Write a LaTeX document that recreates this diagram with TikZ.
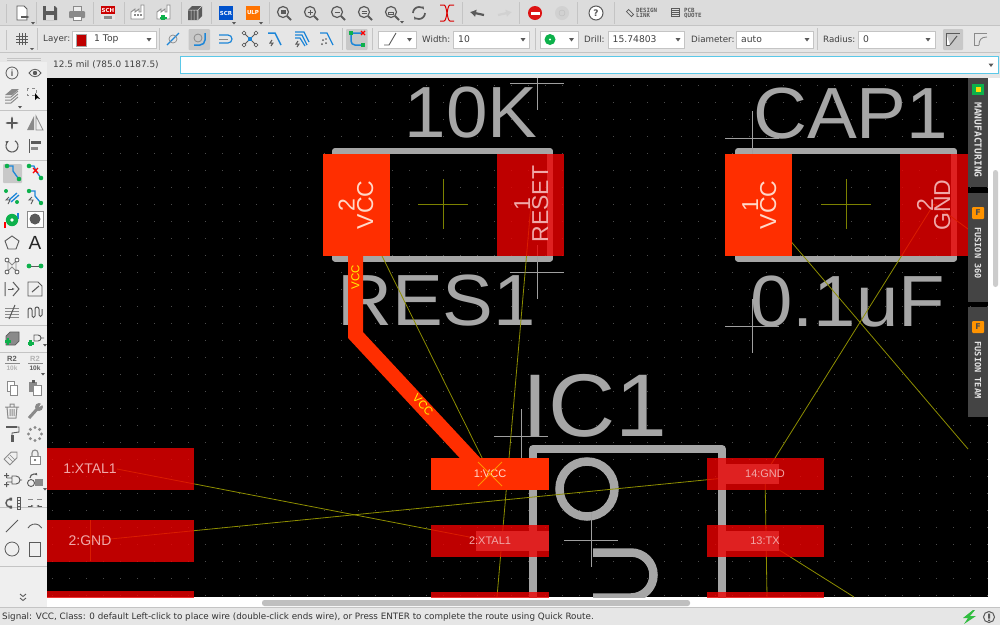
\documentclass[tikz,border=0pt]{standalone}
\usepackage{fontspec}
\usepackage{graphicx}
\setmainfont{DejaVu Sans}
\setmonofont{DejaVu Sans Mono}
\newfontfamily\silk{Liberation Sans}
\usetikzlibrary{arrows.meta}
\definecolor{barbg}{HTML}{DCDCDC}
\definecolor{barbgb}{HTML}{E6E6E6}
\definecolor{panel}{HTML}{EFEFEF}
\definecolor{sepc}{HTML}{C4C4C4}
\definecolor{icong}{HTML}{5A5A5A}
\definecolor{iconl}{HTML}{8A8A8A}
\definecolor{iblue}{HTML}{1D86D8}
\definecolor{igreen}{HTML}{0DB14B}
\definecolor{silkc}{HTML}{A6A6A6}
\definecolor{padd}{HTML}{EE0000}
\definecolor{padb}{HTML}{FF2E00}
\definecolor{rat}{HTML}{8E8E00}
\definecolor{orig}{HTML}{7C8200}
\definecolor{padtxt}{HTML}{F0A8A8}
\definecolor{padtxtb}{HTML}{FFD8C8}
\definecolor{tabc}{HTML}{444444}
\definecolor{press}{HTML}{C8C8C8}
\definecolor{cyanb}{HTML}{5BC8E8}
\newcommand\icn[3]{\begin{scope}[shift={(#1,#2)}]#3\end{scope}}
\newcommand\lens[3]{\begin{scope}[shift={(#1,#2)}]\draw[icong,line width=1.2] (-1,-1) circle (5.5);\draw[icong,line width=1.8] (3,3)--(7,7);#3\end{scope}}
\newcommand\fs[1]{\fontsize{#1}{#1}\selectfont}
\tikzset{
  ui/.style={inner sep=0,text=black!75,font=\fs{8.7}},
  uiv/.style={inner sep=0,text=black!75,font=\fs{9.2}},
  combo/.style={draw=sepc,fill=white,line width=.8},
  pressbox/.style={fill=press,rounded corners=1},
  tbsep/.style={draw=sepc,line width=.8},
  silkline/.style={draw=silkc,line width=6,line cap=round,line join=round},
  silktext/.style={inner sep=0,text=silkc,anchor=base west},
  crossl/.style={draw=gray!75,line width=.8},
  origc/.style={draw=orig,line width=.9},
  ratline/.style={draw=rat,line width=.8},
  paddark/.style={fill=padd,fill opacity=.8},
  padbright/.style={fill=padb},
  padlbl/.style={inner sep=0,text=padtxt,font=\silk\fs{11}},
  pinlbl/.style={inner sep=0,rotate=90,anchor=base,font=\silk\fs{23}},
  tabtext/.style={inner sep=0,rotate=-90,text=white!90!black,font=\ttfamily\bfseries\fs{8.6}},
  darr/.style={fill=black!65},
  icline/.style={draw=icong,line width=1.1},
  icthin/.style={draw=iconl,line width=1},
  wireb/.style={draw=iblue,line width=1.3},
  gdot/.style={fill=igreen},
}
\newcommand\combarrow[2]{\fill[darr] (#1-2.5,#2-1.5)--(#1+2.5,#2-1.5)--(#1,#2+2)--cycle;}
\begin{document}
\begin{tikzpicture}[x=1pt,y=-1pt]
\useasboundingbox (0,0) rectangle (1000,625);
% ---- chrome backgrounds
\fill[barbg] (0,0) rectangle (1000,26);
\fill[barbgb] (0,26) rectangle (1000,52);
\fill[barbgb] (0,52) rectangle (1000,78);
\draw[sepc,line width=.8] (0,25.5)--(1000,25.5);
\draw[sepc,line width=.5] (0,52)--(1000,52);
\fill[panel] (0,62) rectangle (47,608);
\fill[white] (0,597) rectangle (1000,608);
\fill[white] (988,78) rectangle (1000,608);
\fill[panel] (0,597) rectangle (47,608);
\fill[barbgb] (0,608) rectangle (1000,625);
\draw[sepc,line width=.8] (0,607.5)--(1000,607.5);
% ---- scrollbars
\fill[black!25,rounded corners=2.5] (262,600) rectangle (690,606);
\fill[black!20,rounded corners=2.5] (993,170) rectangle (998,287);

% ---- canvas
\begin{scope}
\clip (47,78) rectangle (988,597);
\fill[black] (47,78) rectangle (988,597);
\foreach \i in {3,...,58}{\foreach \j in {5,...,35}{
  \fill[white!30!black] ({17*\i+1-.5},{17*\j-.5}) rectangle ++(1,1);}}
% named ends
\coordinate (r2) at (382,256);
\coordinate (r1) at (531,204);
\coordinate (c1) at (759,204);
\coordinate (c2) at (934,204);
\coordinate (u1) at (490,474);
\coordinate (u2) at (490,541);
\coordinate (u14) at (765,474);
\coordinate (u13) at (765,541);
\coordinate (x1) at (117,469);
\coordinate (g2) at (90,541);
\coordinate (edgeA) at (968,449);
\coordinate (edgeB) at (968,229);
\coordinate (edgeC) at (767,597);
\coordinate (edgeD) at (854,597);
\coordinate (edgeE) at (497,597);
% silkscreen
\node[silktext,font=\silk\fs{72.5}] (t10k) at (404.5,137) {\scalebox{1.03}[1]{10K}};
\node[silktext,font=\silk\fs{72.5}] (tres) at (337,325.5) {\scalebox{1.05}[1]{RES1}};
\node[silktext,font=\silk\fs{72.5}] (tcap) at (753,138) {\scalebox{1.03}[1]{CAP1}};
\node[silktext,font=\silk\fs{72.5}] (tval) at (750,326) {\scalebox{1.05}[1]{0.1uF}};
\node[silktext,font=\silk\fs{89}] (tic) at (522,436) {\scalebox{1.045}[1]{IC1}};
\foreach \a/\b in {335/550,738/954}{
  \draw[silkline] (\a,151) rectangle (\b,258.5);
}
\draw[silkline,line width=8] (533,600)--(533,449)--(722,449)--(722,600);
\draw[silkc,line width=8.5] (587,489) circle (27.5);
\draw[silkc,line width=8.5] (593,552.5)--(631,552.5) arc (-90:90:22.5)--(593,597.5);
% origin crosses
\foreach \cx/\cy in {537/83,537/272,752/138,752/326,521/436,591/540}{
  \draw[crossl] (\cx-27,\cy)--(\cx+27,\cy) (\cx,\cy-27)--(\cx,\cy+27);}
\foreach \cx in {443,846}{
  \draw[origc] (\cx-25,204)--(\cx+25,204) (\cx,179)--(\cx,229);}
% ratsnest
\draw[ratline] (r2)--(u1);
\draw[ratline] (r1)--(edgeE);
\draw[ratline] (c1)--(edgeA);
\draw[ratline] (c2)--(u14);
\draw[ratline] (c2)--(edgeB);
\draw[ratline] (x1)--(u2);
\draw[ratline] (g2)--(u14);
\draw[ratline] (u14)--(edgeC);
\draw[ratline] (u13)--(edgeD);
\draw[draw=rat,line width=.8] (90,520)--(90,561);
% grey label plates under the unselected pads
\foreach \a/\b/\c/\d in {476/531/549/551,718/464/779/484,718/531/779/551}
  \fill[silkc] (\a,\b) rectangle (\c,\d);
% dark pads
\fill[paddark] (47,448) rectangle (194,490);
\fill[paddark] (47,520) rectangle (194,562);
\fill[paddark] (47,591) rectangle (194,600);
\fill[paddark] (497,153.5) rectangle (564,255.5);
\fill[paddark] (900,153.5) rectangle (968,255.5);
\fill[paddark] (431,525) rectangle (549,557);
\fill[paddark] (431,592) rectangle (549,600);
\fill[paddark] (707,458) rectangle (824,490);
\fill[paddark] (707,525) rectangle (824,557);
\fill[paddark] (707,592) rectangle (824,600);
% VCC net
\draw[padb,line width=15,line join=miter] (355.5,255)--(355.5,335)--(483,472);
\fill[padbright] (323,153.5) rectangle (390,255.5);
\fill[padbright] (725,153.5) rectangle (792,255.5);
\fill[padbright] (431,458) rectangle (549,490);
% pad labels
\node[padlbl,font=\silk\fs{14}] (l1) at (90,469) {1:XTAL1};
\node[padlbl,font=\silk\fs{14}] (l2) at (90,541) {2:GND};
\node[padlbl,text=padtxtb] (l3) at (490,474) {1:VCC};
\node[padlbl] (l4) at (490,541) {2:XTAL1};
\node[padlbl] (l5) at (765,474) {14:GND};
\node[padlbl] (l6) at (765,541) {13:TX};
\draw[draw=orange!85!yellow,line width=.9] (478,462)--(502,486) (502,462)--(478,486);
% pin labels
\node[pinlbl,text=padtxtb] (p1) at (354.5,205) {2};
\node[pinlbl,text=padtxtb] (p2) at (373,205) {VCC};
\node[pinlbl,text=padtxt] (p3) at (530,204) {1};
\node[pinlbl,text=padtxt] (p4) at (548,204) {RESET};
\node[pinlbl,text=padtxtb] (p5) at (758,205) {1};
\node[pinlbl,text=padtxtb] (p6) at (776,205) {VCC};
\node[pinlbl,text=padtxt] (p7) at (933,205) {2};
\node[pinlbl,text=padtxt] (p8) at (950,205) {GND};
% net labels
\node[inner sep=0,text=yellow,rotate=90,font=\silk\fs{11.5}] (n1) at (355.5,277) {VCC};
\node[inner sep=0,text=yellow,rotate=-47,font=\silk\fs{11.5}] (n2) at (423,405) {VCC};
\end{scope}

% ---- right tabs
\fill[tabc] (968,78) rectangle (988,187);
\fill[tabc] (968,193) rectangle (988,302);
\fill[tabc] (968,307) rectangle (988,417);
\fill[igreen] (972,84) rectangle (984,95);
\fill[yellow!80!orange] (975.5,87) rectangle (980.5,92);
\node[tabtext,font=\ttfamily\bfseries\fs{9.6}] (tabA) at (978,140) {MANUFACTURING};
\fill[orange!85!yellow,rounded corners=1] (972,207) rectangle (984,219);
\node[inner sep=0,font=\bfseries\fs{8},text=black!70] (tabAi) at (978,213) {F};
\node[tabtext] (tabB) at (978,253) {FUSION 360};
\fill[orange!85!yellow,rounded corners=1] (972,321) rectangle (984,333);
\node[inner sep=0,font=\bfseries\fs{8},text=black!70] (tabBi) at (978,327) {F};
\node[tabtext] (tabC) at (978,370) {FUSION TEAM};

% ---- top row icons
\draw[tbsep] (6,4)--(6,23) (36,2)--(36,24) (93,2)--(93,24) (124,2)--(124,24) (181,2)--(181,24) (211,2)--(211,24) (269,2)--(269,24) (462,2)--(462,24) (519,2)--(519,24) (577,2)--(577,24) (614,2)--(614,24);
\icn{22}{13}{\draw[icong,fill=white,line width=.9] (-5,-7)--(2,-7)--(5,-4)--(5,7)--(-5,7)--cycle; \draw[icong,-{Latex[length=4]},line width=1.5] (-1,4)--(8,4); \fill[darr] (9,9)--(13,9)--(11,11.5)--cycle;}
\icn{50}{13}{\fill[icong] (-7,-7)--(5,-7)--(7,-5)--(7,7)--(-7,7)--cycle; \fill[barbg] (-4,-7) rectangle (4,-2); \fill[barbg] (-4,2) rectangle (4,7);}
\icn{77}{13}{\fill[iconl,rounded corners=1] (-8,-2) rectangle (8,5); \fill[barbg!50!white,draw=iconl] (-4,-7) rectangle (4,-2); \fill[white,draw=iconl] (-4,3) rectangle (4,7);}
\icn{108}{13}{\fill[white!80!gray] (-7,-7) rectangle (7,7); \fill[red!80!black] (-7,-7) rectangle (7,1); \node[inner sep=0,text=white,font=\bfseries\fs{5.5}] (ics) at (0,-3) {SCH}; \fill[iconl] (-4,3) rectangle (4,6);}
\icn{138}{13}{\draw[iconl,fill=white,line width=.9] (-7,6)--(-7,-1)--(-3,-4)--(-3,-1)--(1,-4)--(1,-1)--(3,-1)--(3,-8)--(6,-8)--(6,6)--cycle; \foreach \u in {-4,-1,2}{\fill[iconl] (\u,1) rectangle ++(1.6,1.6);}}
\icn{164}{13}{\draw[iconl,fill=white,line width=.9] (-7,6)--(-7,-1)--(-3,-4)--(-3,-1)--(1,-4)--(1,-1)--(3,-1)--(3,-8)--(6,-8)--(6,6)--cycle; \fill[igreen] (-3,2) rectangle (1,7); \fill[igreen] (-4.5,3.5) rectangle (2.5,5.5);}
\icn{195}{13}{\fill[icong] (-7,-3)--(-3,-7)--(7,-7)--(7,3)--(3,7)--(-7,7)--cycle; \draw[white!70!gray,line width=.5] (-4,-3)--(-4,7) (-1,-3)--(-1,7) (2,-3)--(2,7) (-7,-3)--(3,-3)--(7,-7) (3,-3)--(3,7);}
\icn{226}{13}{\fill[blue!60!cyan!80!black] (-7,-7) rectangle (7,7); \node[inner sep=0,text=white,font=\bfseries\fs{5.5}] (icscr) at (0,0) {SCR}; \fill[darr] (6,9)--(10,9)--(8,11.5)--cycle;}
\icn{253}{13}{\fill[orange!90!red] (-7,-7) rectangle (7,7); \node[inner sep=0,text=white,font=\bfseries\fs{5.5}] (iculp) at (0,0) {ULP}; \fill[darr] (6,9)--(10,9)--(8,11.5)--cycle;}
\lens{284}{13}{\fill[icong] (-3.5,-3) rectangle (1.5,1);}
\lens{311}{13}{\draw[icong] (-3.5,-1)--(1.5,-1) (-1,-3.5)--(-1,1.5);}
\lens{338}{13}{\draw[icong] (-3.5,-1)--(1.5,-1);}
\lens{365}{13}{\draw[icong] (-3.5,-2)--(1.5,-2) (-3.5,0)--(1.5,0);}
\lens{392}{13}{\draw[icong] (-3.5,-1) rectangle (1.5,1);\fill[darr] (8,8)--(12,8)--(10,10.5)--cycle;}
\icn{419}{13}{\draw[icong,line width=1.7,-{Latex[length=3.5]}] (-6,0) arc (180:330:6); \draw[icong,line width=1.7,-{Latex[length=3.5]}] (6,0) arc (0:150:6);}
\icn{447}{13}{\draw[red!85!black,line width=1] (-7,-8)--(-3,-8)..controls (0,-8) and (0,8)..(3,8)--(7,8); \draw[red!85!black,line width=1] (-7,8)--(-3,8)..controls (0,8) and (0,-8)..(3,-8)--(7,-8);}
\icn{477}{13}{\draw[icong,line width=2.2,-{Latex[length=6,width=8]}] (7,2)--(-7,-1);}
\icn{505}{13}{\draw[black!18,line width=2.2,-{Latex[length=6,width=8]}] (-7,2)--(7,-1);}
\icn{535}{13}{\fill[red!85!black!90!pink] (0,0) circle (7); \fill[white] (-4.5,-1.5) rectangle (4.5,1.5);}
\icn{562}{13}{\fill[black!18] (0,0) circle (7);\draw[black!26] (0,0) circle (3);}
\icn{596}{13}{\draw[icong,fill=white,line width=1] (0,0) circle (7); \node[inner sep=0,text=icong,font=\bfseries\fs{9}] (ichelp) at (0,0) {?};}
\icn{630}{13}{\draw[icong,line width=.8,rotate=-45] (-3.5,-1.5) rectangle (3.5,1.5);}
\node[inner sep=0,align=left,anchor=west,text=icong,font=\ttfamily\bfseries\fs{5.8}] (dl) at (636,13) {DESIGN\\[-.4pt]LINK};
\icn{675}{12}{\draw[icong,line width=.8] (-4,-4) rectangle (4,4); \draw[icong,line width=.8] (-4,-2)--(4,-2) (-4,0)--(4,0) (-4,2)--(4,2);}
\node[inner sep=0,align=left,anchor=west,text=icong,font=\ttfamily\bfseries\fs{5.8}] (pq) at (684,13) {PCB\\[-.4pt]QUOTE};

% ---- second row
\draw[tbsep] (6,30)--(6,50) (37,28)--(37,50) (159,28)--(159,50) (342,28)--(342,50) (372,28)--(372,50) (535,28)--(535,50) (817,28)--(817,50);
\icn{22}{39}{\draw[icong,line width=.7] (-6,-3)--(6,-3) (-6,0)--(6,0) (-6,3)--(6,3) (-3,-6)--(-3,6) (0,-6)--(0,6) (3,-6)--(3,6); \fill[darr] (8,9)--(12,9)--(10,11)--cycle;}
\node[ui,anchor=west] (lLay) at (43,39.5) {Layer:};
\draw[combo] (72,31) rectangle (156,48.5);
\fill[red!75!black,draw=black!35] (76,34) rectangle (86,46);
\node[uiv,anchor=west] (vLay) at (94,39.5) {1 Top};
\combarrow{149}{39.5}
\icn{173}{39}{\draw[iblue,line width=1.2] (-6,6)--(6,-6); \draw[iconl,line width=.7] (0,0) circle (4);}
\fill[pressbox] (188.5,29) rectangle (210,50);
\icn{199}{39}{\draw[iblue,line width=1.5] (-5,6)--(1,6) arc (90:0:5)--(6,-6); \draw[iconl,line width=.8] (-1,-1) circle (4);}
\icn{225}{39}{\draw[iblue,line width=1.2] (-6,-4)--(3,-4) arc (-90:90:4)--(-6,4); \draw[iconl,line width=.8] (-6,0)--(3,0);}
\icn{250}{39}{\draw[icong,line width=.8] (-6,-6)--(6,6) (6,-6)--(-6,6); \fill[iblue] (-2,-2) rectangle (2,2); \foreach \u/\v in {-6/-6,6/-6,-6/6,6/6}{\draw[icong,fill=white,line width=.7] (\u,\v) circle (1.8);}}
\icn{275}{39}{\draw[iblue,line width=1.5] (-7,-6)--(0,-6)--(6,6); \draw[icong,line width=1] (-3,1)--(-5,4)--(-2,4)--(-4,7);}
\icn{302}{39}{\draw[iblue,line width=1.2] (-7,-7)--(2,-7)--(7,3) (-7,-4)--(0,-4)--(5,6) (-7,-1)--(-2,-1)--(3,7); \draw[icong,line width=1] (-4,2)--(-6,5)--(-3,5)--(-5,8);}
\icn{327}{39}{\draw[iblue,line width=1.3] (-7,-6)--(0,-6)--(6,6); \fill[icong] (-4,1) circle (1) (-1,4) circle (1) (-5,5) circle (1) (-1,0) circle (.8);}
\fill[pressbox] (346,29) rectangle (367.5,50);
\icn{357}{39}{\draw[iblue,line width=1.5] (-5,-6)--(5,-6) (-6,-5)--(-6,2) arc (180:90:4)--(5,6); \fill[igreen] (-8,-8) rectangle (-4,-4); \fill[igreen] (4,3.5) rectangle (8,7.5); \draw[red,line width=1.2] (4,-8)--(8,-4) (8,-8)--(4,-4);}
\draw[combo] (378,31) rectangle (416,48.5);
\icn{392}{39}{\draw[icong,line width=.9] (-8,6)--(-3,6)--(4,-6);}
\combarrow{409.5}{39.5}
\node[ui,anchor=west] (lWid) at (422,39.5) {Width:};
\draw[combo] (453,31) rectangle (529,48.5);
\node[uiv,anchor=west] (vWid) at (458,39) {10};
\combarrow{523}{39.5}
\draw[combo] (540,31) rectangle (578,48.5);
\fill[igreen] (550,39.5) circle (5.5); \fill[white] (550,39.5) circle (1.2);
\combarrow{571.5}{39.5}
\node[ui,anchor=west] (lDri) at (584,39.5) {Drill:};
\draw[combo] (608,31) rectangle (684,48.5);
\node[uiv,anchor=west] (vDri) at (612.5,39) {15.74803};
\combarrow{678}{39.5}
\node[ui,anchor=west] (lDia) at (691,39.5) {Diameter:};
\draw[combo] (736,31) rectangle (813,48.5);
\node[uiv,anchor=west] (vDia) at (741,39) {auto};
\combarrow{807}{39.5}
\node[ui,anchor=west] (lRad) at (823,39.5) {Radius:};
\draw[combo] (858,31) rectangle (935,48.5);
\node[uiv,anchor=west] (vRad) at (863,39) {0};
\combarrow{928}{39.5}
\fill[pressbox] (943,29) rectangle (963,50);
\icn{953}{39}{\draw[icong,fill=white,line width=.8] (-7,-6)--(7,-6)--(7,-6) (-7,-6)--(-7,6)--(-3,6); \draw[icong,line width=1] (-3,6)--(4,-3);}
\icn{980}{39}{\draw[iconl,line width=.8] (-6,6)--(-6,-6)--(7,-6) (-1,6)--(-6,6); \draw[iconl,line width=.9] (-1,6) ..controls (-1,1) and (1,-2)..(7,-2);}

% ---- third row
\node[ui,anchor=west,font=\fs{8.9}] (coord) at (53,65) {12.5 mil (785.0 1187.5)};
\fill[white,draw=cyanb,line width=1] (180,56) rectangle (998,73.5);
\combarrow{991}{65}
\draw[sepc,line width=.5] (7,58)--(41,58) (7,60)--(41,60);

% ---- left tool panel
\draw[sepc,line width=.7] (0,110)--(47,110) (0,160)--(47,160) (0,325)--(47,325) (0,352)--(47,352) (0,507)--(47,507) (0,566)--(47,566);
\icn{12}{73}{\draw[icong,line width=.8] (0,0) circle (6); \node[inner sep=0,text=icong,font=\silk\bfseries\fs{9}] (ici) at (0,0) {i};}
\icn{35}{73}{\draw[icong,line width=.8] (-6,0) ..controls (-3,-5) and (3,-5)..(6,0) ..controls (3,5) and (-3,5)..(-6,0)--cycle; \fill[icong] (0,0) circle (2.2);}
\icn{12}{96}{\fill[iconl] (-7,-1)--(0,-7)--(7,-7)--(0,-1)--cycle; \draw[iconl,line width=1] (-7,1)--(-1,1)--(6,-5) (-7,4)--(-1,4)--(6,-2) (-7,7)--(-1,7)--(6,1);\fill[darr] (6,10)--(10,10)--(8,12.5)--cycle;}
\icn{32}{93}{\draw[iconl,dashed,line width=.8] (-5,-5) rectangle (4,2); \fill[black] (3,0)--(3,7)--(5,5)--(8,6)--cycle;}
\icn{12}{123}{\draw[icong,line width=1.2,{Latex[length=3]}-{Latex[length=3]}] (-7,0)--(7,0); \draw[icong,line width=1.2,{Latex[length=3]}-{Latex[length=3]}] (0,-7)--(0,7);}
\icn{35}{123}{\fill[iconl] (-1,-7)--(-1,7)--(-8,7)--cycle; \draw[iconl,line width=.8] (1,-7)--(1,7)--(8,7)--cycle;}
\icn{12}{146}{\draw[icong,line width=1.1,-{Latex[length=3.5]}] (3,-5.2) arc (-60:240:6);}
\icn{35}{146}{\draw[icong,line width=1] (-6,-7)--(-6,7); \fill[icong] (-4,-5) rectangle (6,-2); \fill[iconl] (-4,1) rectangle (3,3.5);}
\fill[pressbox] (3,164) rectangle (22,183);
\icn{13}{172}{\draw[wireb] (-6,-6)--(0,-6)--(0,-1)--(5,6); \fill[gdot] (-6,-6) circle (2.3) (6,7) circle (2.3);}
\icn{35}{172}{\draw[wireb] (-6,-6)--(-1,-6)--(1,-1)--(6,6); \fill[gdot] (-6,-6) circle (2.3) (6,6) circle (2.3); \draw[red,line width=1.2] (-2,-4)--(3,1) (3,-4)--(-2,1);}
\icn{12}{197}{\draw[wireb] (-3,3)--(5,-4); \draw[wireb] (-1,5)--(7,-2); \fill[gdot] (-6,-6) circle (2) (5,5) circle (2); \draw[icong,line width=.9] (-3,0)--(-6,3)--(-2,3)--(-4,7);}
\icn{35}{197}{\draw[wireb] (-6,-6)--(0,-6)--(0,-1)--(5,5); \fill[gdot] (-6,-6) circle (2.2) (6,6) circle (2.2); \draw[icong,line width=.9] (-3,0)--(-6,3)--(-2,3)--(-4,7);}
\icn{12}{220}{\draw[red,line width=1.3] (-7,8)--(-7,2); \draw[iblue,line width=1.3] (6,-7)--(6,-1); \fill[igreen] (0,0) circle (6.2); \fill[white] (0,0) circle (1.8);}
\icn{35}{219}{\fill[white,draw=iconl,line width=.6] (-8,-8) rectangle (8,8); \fill[icong] (0,0) circle (5.5);}
\icn{12}{243}{\draw[icong,line width=.9] (0,-7)--(7,-2)--(4,6)--(-4,6)--(-7,-2)--cycle;}
\node[inner sep=0,text=black!85,font=\silk\fs{19}] (icA) at (35,243) {A};
\icn{12}{266}{\draw[iconl,line width=.9] (-4,-5)--(0,-1)--(4,-5) (-4,5)--(0,1)--(4,5) (-4,-5)--(-4,5) (4,-5)--(4,5); \foreach \u/\v in {-5/-6,5/-6,-5/6,5/6}{\draw[icong,fill=white,line width=.8] (\u,\v) circle (2);}}
\icn{35}{266}{\draw[icong,line width=1] (-6,0)--(6,0); \fill[gdot] (-6,0) circle (2.4) (6,0) circle (2.4);}
\icn{12}{289}{\draw[icong,line width=1] (-7,-7)--(-7,7) (1,-7)--(7,0)--(1,7); \draw[icong,line width=1,-{Latex[length=3]}] (-4,0)--(3,0);}
\icn{35}{289}{\draw[icong,line width=.9] (-7,7)--(-7,-7)--(3,-7)--(7,-3)--(7,7)--cycle; \draw[icong,line width=1.1] (-3,3)--(4,-3);}
\icn{12}{312}{\draw[iconl,line width=.8] (-7,-4)--(7,-4) (-7,-1)--(7,-1) (-7,2)--(7,2) (-7,5)--(7,5); \draw[icong,line width=1] (-3,7)--(3,-7);}
\icn{35}{312}{\draw[icong,line width=1] (-7,6)--(-7,-2) arc (180:360:2)--(-3,4) arc (180:0:1.5)--(0,-3) arc (180:360:2)--(4,3) arc (180:0:1.5)--(7,-3);}
\icn{12}{338}{\draw[icong,fill=iconl,line width=.7] (-6,-2)--(-2,-6)--(7,-6)--(7,3)--(3,7)--(-6,7)--cycle; \fill[igreen] (-7,2) rectangle (-1,4.5); \fill[igreen] (-5.3,0.2) rectangle (-2.7,6.5);}
\icn{35}{338}{\draw[icong,line width=.9] (-1,-3)--(3,-3) arc (-90:90:3)--(-1,3)--cycle (6,0)--(9,0); \fill[igreen] (-6,2) rectangle (-3,8); \fill[igreen] (-7.5,3.5) rectangle (-1.5,6.5); \fill[darr] (8,6)--(12,6)--(10,8.5)--cycle;}
\node[inner sep=0,align=center,text=icong,font=\silk\bfseries\fs{7.5}] (icR) at (12,358.5) {R2};
\draw[iconl,line width=.7] (5,363)--(20,363);
\node[inner sep=0,text=black!30,font=\silk\bfseries\fs{6.5}] (icRb) at (12,368) {10k};
\node[inner sep=0,text=black!30,font=\silk\bfseries\fs{7.5}] (icS) at (35,358.5) {R2};
\draw[iconl,line width=.7] (28,363)--(43,363);
\node[inner sep=0,text=icong,font=\silk\bfseries\fs{6.5}] (icSb) at (35,368) {10k};
\fill[darr] (41,373)--(45,373)--(43,375.5)--cycle;
\icn{12}{388}{\draw[iconl,fill=white,line width=.9] (-5,-7) rectangle (2,3); \draw[iconl,fill=white,line width=.9] (-2,-3) rectangle (5,7);}
\icn{35}{388}{\fill[iconl] (-6,-6) rectangle (2,4); \draw[iconl,fill=white,line width=.9] (-2,-3) rectangle (6,7); \fill[icong] (-3,-8) rectangle (0,-5);}
\icn{12}{411}{\draw[iconl,line width=1] (-5,-4)--(-4,7)--(4,7)--(5,-4) (-7,-4)--(7,-4) (-2,-4)--(-2,-7)--(2,-7)--(2,-4) (-2,-2)--(-2,5) (0,-2)--(0,5) (2,-2)--(2,5);}
\icn{35}{411}{\draw[iconl,line width=3] (-6,7)--(3,-3); \fill[iconl] (4,-4) circle (4); \fill[panel] (4,-4)--(9,-7)--(7,-9)--cycle;}
\icn{12}{434}{\draw[icong,line width=1.8] (-6,-7)--(5,-7); \draw[icong,line width=.9] (5,-7)--(7,-7)--(7,-2)--(0,-1)--(0,1); \fill[icong] (-1.5,1) rectangle (1.5,8);}
\icn{35}{434}{\foreach \t in {0,45,...,315}{\fill[iconl] (\t:6.5) circle (1.7);}}
\icn{12}{457}{\draw[iconl,line width=.9,rotate=45] (-7,-4)--(3,-4)--(7,0)--(3,4)--(-7,4)--cycle; \draw[iconl,line width=.6] (-2,-2)--(3,3) (-4,0)--(1,5);}
\icn{35}{457}{\draw[iconl,line width=1.1] (-3,-1)--(-3,-4) arc (180:360:3)--(3,-1); \draw[iconl,fill=white,line width=.9] (-5,-1) rectangle (5,7); \fill[icong] (0,3) circle (1.2);}
\icn{12}{480}{\draw[icong,line width=.9] (0,-4)--(4,-4) arc (-90:90:4)--(0,4)--cycle (8,0)--(10,0) (-5,-2)--(0,-2) (-5,2)--(0,2); \fill[icong] (-8,-5) rectangle (-3,-4) (-6,-7) rectangle (-5,-2) (-8,4) rectangle (-3,5) (-6,2) rectangle (-5,7);}
\icn{35}{480}{\draw[icong,line width=.9] (-4,3) circle (3.5); \fill[iconl] (0,-1) rectangle (8,6); \draw[icong,line width=1.1,-{Latex[length=3]}] (-5,-2) arc (180:330:4); \fill[darr] (8,8)--(12,8)--(10,10.5)--cycle;}
\icn{12}{503}{\draw[icong,line width=.8] (5,-6)--(5,6)--(8,6)--(8,-6)--cycle (5,-3)--(8,-3) (5,0)--(8,0) (5,3)--(8,3); \draw[icong,line width=1.4] (-2,-4) arc (270:90:4); \fill[icong] (-2.5,-5.5) rectangle (0,-2.5) (-2.5,2.5) rectangle (0,5.5);}
\icn{35}{503}{\draw[iconl,line width=.9] (-7,-4)--(-2,-4) (2,-4)--(7,-4); \draw[icong,line width=1,-{Latex[length=3]}] (-7,3)--(-1,3); \draw[icong,line width=1,-{Latex[length=3]}] (7,3)--(1,3);}
\icn{12}{526}{\draw[icong,line width=.9] (-6,6)--(6,-6);}
\icn{35}{526}{\draw[icong,line width=.9] (-7,2) arc (210:330:8);}
\icn{12}{549}{\draw[icong,line width=.8] (0,0) circle (7);}
\icn{35}{549}{\draw[icong,line width=.8] (-5.5,-7) rectangle (5.5,7);}
\icn{23}{598}{\draw[icong,line width=.9] (-3,-4)--(0,-1.5)--(3,-4) (-3,0)--(0,2.5)--(3,0);}

% ---- status bar
\node[ui,anchor=west,font=\fs{8.78},text=black!80] (status) at (2,617) {Signal: VCC, Class: 0 default Left-click to place wire (double-click ends wire), or Press ENTER to complete the route using Quick Route.};
\fill[igreen!85!yellow] (973,610)--(963,618)--(968,618)--(964,624)--(976,616)--(970,616)--(975,610)--cycle;
\draw[icong,line width=1] (989,617) circle (5.5);
\fill[icong] (988,613.5) rectangle (990,618.5) (988,619.5) rectangle (990,621);
\end{tikzpicture}
\end{document}
